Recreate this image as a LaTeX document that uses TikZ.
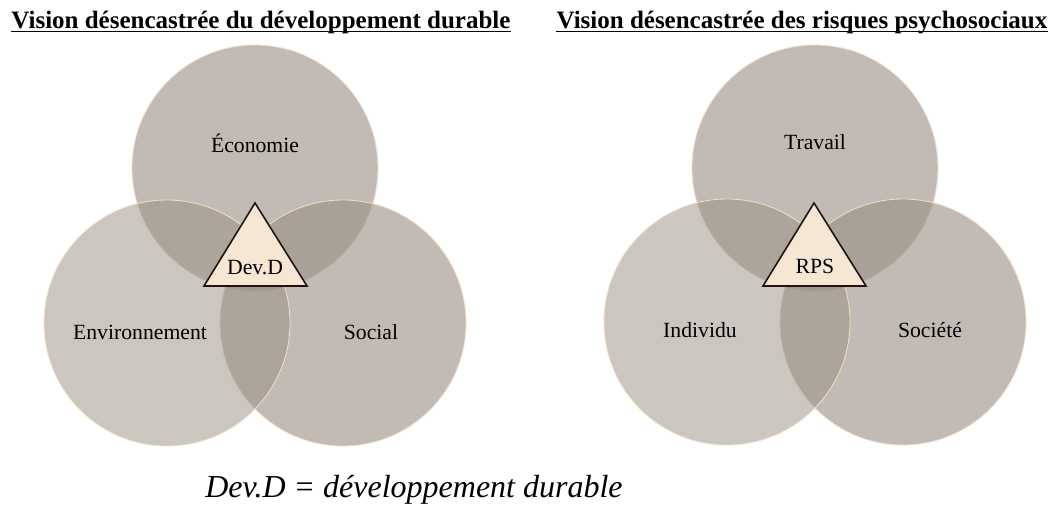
\documentclass[tikz,border=0pt]{standalone}
\usepackage{fontspec}
\setmainfont{Liberation Serif}

\definecolor{vennfill}{RGB}{153,142,131}
\definecolor{vennline}{RGB}{246,222,198}
\definecolor{trifill}{RGB}{246,230,212}
\definecolor{triline}{RGB}{30,20,15}

\tikzset{
	venn/.style={fill=vennfill, fill opacity=0.6, draw=vennline, line width=0.8pt},
	vennlight/.style={venn, fill opacity=0.5},
	lbl/.style={font=\fontsize{21.7}{24}\selectfont, inner sep=0pt},
	core/.style={fill=trifill, draw=triline, line width=1.6pt, line join=miter},
	titre/.style={font=\bfseries\fontsize{25}{28}\selectfont, inner sep=0pt, anchor=base},
}

\begin{document}
\begin{tikzpicture}[x=1pt, y=-1pt]
		\useasboundingbox (0, 0) rectangle (1052, 506);
		
		% developpement durable
		\node[titre] (t1) at (261, 28) {Vision désencastrée du développement durable};
		\draw[line width=1.6pt] ([yshift=-3.5pt]t1.base west) -- ([yshift=-3.5pt]t1.base east);
		\coordinate (eco) at (255, 168);
		\coordinate (env) at (167, 323);
		\coordinate (soc) at (343, 323);
		\draw[venn] (eco) circle (123pt);
		\draw[venn] (soc) circle (123pt);
		\draw[vennlight] (env) circle (123pt);
		\node[lbl] (a) at (255, 143) {Économie};
		\node[lbl] (b) at (140, 332) {Environnement};
		\node[lbl] (c) at (371, 332) {Social};
		\draw[core] (255, 203) -- (307, 286) -- (204, 286) -- cycle;
		\node[lbl] (dd) at (255, 268) {Dev.D};
		
		% risques psychosociaux
		\node[titre] (t2) at (802, 28) {Vision désencastrée des risques psychosociaux};
		\draw[line width=1.6pt] ([yshift=-3.5pt]t2.base west) -- ([yshift=-3.5pt]t2.base east);
		\coordinate (trv) at (815, 168);
		\coordinate (ind) at (727, 322);
		\coordinate (sct) at (903, 322);
		\draw[venn] (trv) circle (123pt);
		\draw[venn] (sct) circle (123pt);
		\draw[vennlight] (ind) circle (123pt);
		\node[lbl] (d) at (815, 142) {Travail};
		\node[lbl] (e) at (700, 330) {Individu};
		\node[lbl] (f) at (930, 330) {Société};
		\draw[core] (814, 203) -- (866, 286) -- (763, 286) -- cycle;
		\node[lbl] (rps) at (815, 266) {RPS};
		
		\node[font=\itshape\fontsize{32}{36}\selectfont, inner sep=0pt, anchor=base] (leg) at (414, 497) {Dev.D = développement durable};
\end{tikzpicture}
\end{document}
